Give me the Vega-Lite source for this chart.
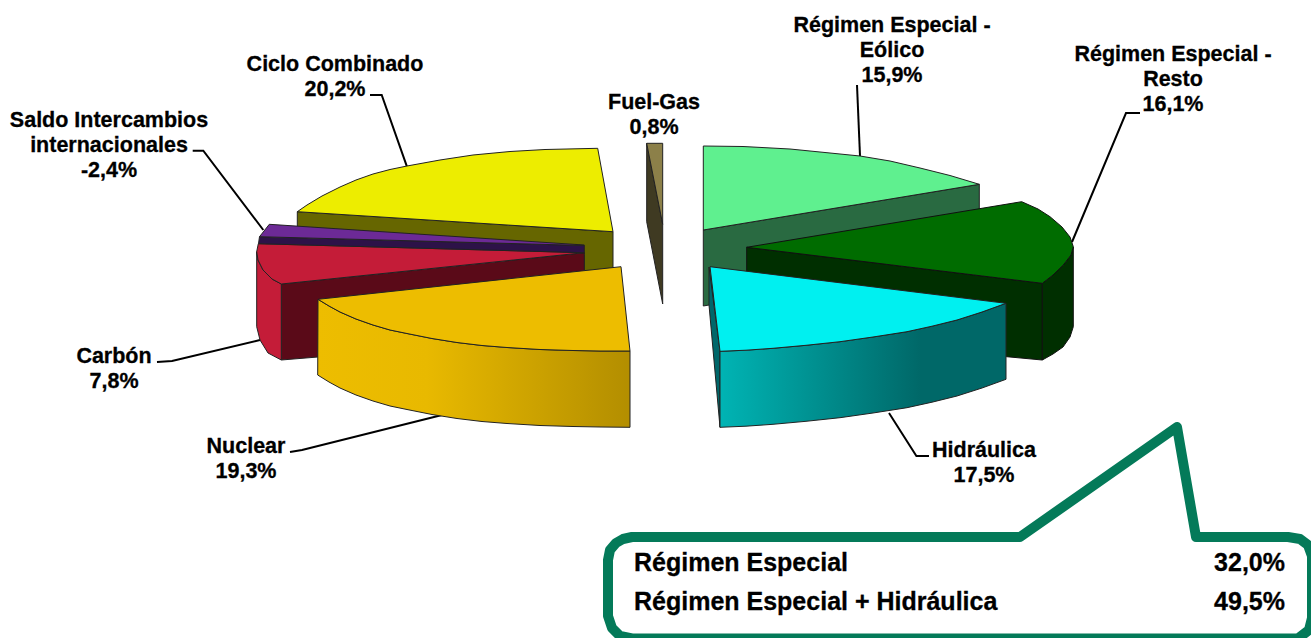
{"$schema":"https://vega.github.io/schema/vega-lite/v6.json","width":1311,"height":638,"autosize":"none","padding":0,"background":"white","config":{"view":{"stroke":null}},
"datasets":{"leaders":[
{"s":"eolico","i":0,"px":860,"py":156},{"s":"eolico","i":1,"px":857,"py":85},
{"s":"resto","i":0,"px":1072,"py":242},{"s":"resto","i":1,"px":1126,"py":113},{"s":"resto","i":2,"px":1140,"py":113},
{"s":"ciclo","i":0,"px":370,"py":95},{"s":"ciclo","i":1,"px":381.7,"py":95},{"s":"ciclo","i":2,"px":407.3,"py":167.7},
{"s":"saldo","i":0,"px":192.7,"py":150.7},{"s":"saldo","i":1,"px":203.3,"py":150.7},{"s":"saldo","i":2,"px":263.3,"py":230},
{"s":"carbon","i":0,"px":157,"py":362},{"s":"carbon","i":1,"px":172,"py":361},{"s":"carbon","i":2,"px":260,"py":340},
{"s":"nuclear","i":0,"px":290,"py":452},{"s":"nuclear","i":1,"px":302,"py":450},{"s":"nuclear","i":2,"px":442,"py":415},
{"s":"hidra","i":0,"px":889,"py":413},{"s":"hidra","i":1,"px":916.4,"py":456},{"s":"hidra","i":2,"px":929,"py":456}],
"shapes":[
{"s":"fuelSide","i":0,"px":646.7,"py":143.3},{"s":"fuelSide","i":1,"px":662.7,"py":224.3},{"s":"fuelSide","i":2,"px":662.7,"py":304},{"s":"fuelSide","i":3,"px":646.7,"py":221.7},
{"s":"fuelTop","i":0,"px":646.7,"py":143.3},{"s":"fuelTop","i":1,"px":662.7,"py":143.3},{"s":"fuelTop","i":2,"px":662.7,"py":224.3},
{"s":"yelSide","i":0,"px":297.3,"py":211.7},{"s":"yelSide","i":1,"px":613,"py":231.7},{"s":"yelSide","i":2,"px":613,"py":270},{"s":"yelSide","i":3,"px":584,"py":272},{"s":"yelSide","i":4,"px":584,"py":255},{"s":"yelSide","i":5,"px":297.3,"py":232},
{"s":"yelTop","i":0,"px":597.7,"py":148.3},{"s":"yelTop","i":1,"px":613,"py":231.7},{"s":"yelTop","i":2,"px":297.3,"py":211.7},{"s":"yelTop","i":3,"px":307,"py":205},{"s":"yelTop","i":4,"px":322,"py":196},{"s":"yelTop","i":5,"px":340,"py":187},{"s":"yelTop","i":6,"px":356,"py":180},{"s":"yelTop","i":7,"px":373,"py":174},{"s":"yelTop","i":8,"px":390,"py":169.5},{"s":"yelTop","i":9,"px":407,"py":166},{"s":"yelTop","i":10,"px":440,"py":160},{"s":"yelTop","i":11,"px":473,"py":155},{"s":"yelTop","i":12,"px":510,"py":151.5},{"s":"yelTop","i":13,"px":545,"py":149.5},
{"s":"lgSide","i":0,"px":703.3,"py":230},{"s":"lgSide","i":1,"px":979.3,"py":184.3},{"s":"lgSide","i":2,"px":979.3,"py":240},{"s":"lgSide","i":3,"px":750,"py":300},{"s":"lgSide","i":4,"px":709,"py":305},{"s":"lgSide","i":5,"px":703.3,"py":306},
{"s":"lgTop","i":0,"px":703.3,"py":146},{"s":"lgTop","i":1,"px":743,"py":146.5},{"s":"lgTop","i":2,"px":790,"py":149},{"s":"lgTop","i":3,"px":830,"py":153},{"s":"lgTop","i":4,"px":860,"py":156},{"s":"lgTop","i":5,"px":890,"py":161},{"s":"lgTop","i":6,"px":920,"py":168},{"s":"lgTop","i":7,"px":950,"py":175.5},{"s":"lgTop","i":8,"px":979.3,"py":184.3},{"s":"lgTop","i":9,"px":703.3,"py":230},
{"s":"redInner","i":0,"px":281.3,"py":284},{"s":"redInner","i":1,"px":584.3,"py":252.7},{"s":"redInner","i":2,"px":584.3,"py":272},{"s":"redInner","i":3,"px":330,"py":356},{"s":"redInner","i":4,"px":281.3,"py":360},
{"s":"redOuter","i":0,"px":256.7,"py":251.7},{"s":"redOuter","i":1,"px":258,"py":260},{"s":"redOuter","i":2,"px":263,"py":270},{"s":"redOuter","i":3,"px":272,"py":279},{"s":"redOuter","i":4,"px":281.3,"py":284},{"s":"redOuter","i":5,"px":281.3,"py":360},{"s":"redOuter","i":6,"px":268,"py":353},{"s":"redOuter","i":7,"px":260,"py":340},{"s":"redOuter","i":8,"px":256.7,"py":326.7},
{"s":"redTop","i":0,"px":258.3,"py":243.7},{"s":"redTop","i":1,"px":584.3,"py":252.7},{"s":"redTop","i":2,"px":281.3,"py":284},{"s":"redTop","i":3,"px":272,"py":279},{"s":"redTop","i":4,"px":263,"py":270},{"s":"redTop","i":5,"px":258,"py":260},{"s":"redTop","i":6,"px":256.7,"py":251.7},
{"s":"purSide","i":0,"px":259.5,"py":236.7},{"s":"purSide","i":1,"px":584.3,"py":245.5},{"s":"purSide","i":2,"px":584.3,"py":252.7},{"s":"purSide","i":3,"px":258.5,"py":243.7},
{"s":"purTop","i":0,"px":259.5,"py":236.7},{"s":"purTop","i":1,"px":269.3,"py":224.3},{"s":"purTop","i":2,"px":584.3,"py":245},{"s":"purTop","i":3,"px":584.3,"py":245.5},
{"s":"dgInner","i":0,"px":746.7,"py":247.3},{"s":"dgInner","i":1,"px":1042.3,"py":283.3},{"s":"dgInner","i":2,"px":1042.3,"py":360},{"s":"dgInner","i":3,"px":1006.7,"py":356.7},{"s":"dgInner","i":4,"px":800,"py":330},{"s":"dgInner","i":5,"px":746.7,"py":310},
{"s":"dgOuter","i":0,"px":1042.3,"py":283.3},{"s":"dgOuter","i":1,"px":1053,"py":275},{"s":"dgOuter","i":2,"px":1063.3,"py":265},{"s":"dgOuter","i":3,"px":1071,"py":255},{"s":"dgOuter","i":4,"px":1073.3,"py":247},{"s":"dgOuter","i":5,"px":1073.3,"py":326.7},{"s":"dgOuter","i":6,"px":1070,"py":337},{"s":"dgOuter","i":7,"px":1063,"py":347},{"s":"dgOuter","i":8,"px":1053,"py":354},{"s":"dgOuter","i":9,"px":1042.3,"py":360},
{"s":"dgTop","i":0,"px":746.7,"py":247.3},{"s":"dgTop","i":1,"px":1021.7,"py":201.7},{"s":"dgTop","i":2,"px":1038,"py":209},{"s":"dgTop","i":3,"px":1050,"py":216.7},{"s":"dgTop","i":4,"px":1062,"py":227},{"s":"dgTop","i":5,"px":1070,"py":237},{"s":"dgTop","i":6,"px":1073.3,"py":246.7},{"s":"dgTop","i":7,"px":1071,"py":255},{"s":"dgTop","i":8,"px":1063.3,"py":265},{"s":"dgTop","i":9,"px":1053,"py":275},{"s":"dgTop","i":10,"px":1042.3,"py":283.3},
{"s":"goSide","i":0,"px":318,"py":299.3},{"s":"goSide","i":1,"px":329,"py":306},{"s":"goSide","i":2,"px":340,"py":312},{"s":"goSide","i":3,"px":356,"py":319},{"s":"goSide","i":4,"px":373,"py":325},{"s":"goSide","i":5,"px":390,"py":330},{"s":"goSide","i":6,"px":407,"py":333.5},{"s":"goSide","i":7,"px":432,"py":338.5},{"s":"goSide","i":8,"px":457,"py":342.5},{"s":"goSide","i":9,"px":482,"py":345.5},{"s":"goSide","i":10,"px":507,"py":347.5},{"s":"goSide","i":11,"px":540,"py":349.5},{"s":"goSide","i":12,"px":573,"py":350.5},{"s":"goSide","i":13,"px":600,"py":351},{"s":"goSide","i":14,"px":630,"py":351},{"s":"goSide","i":15,"px":630,"py":427.3},{"s":"goSide","i":16,"px":600,"py":427},{"s":"goSide","i":17,"px":573,"py":426.5},{"s":"goSide","i":18,"px":540,"py":425.5},{"s":"goSide","i":19,"px":507,"py":423.5},{"s":"goSide","i":20,"px":482,"py":421.5},{"s":"goSide","i":21,"px":457,"py":418.5},{"s":"goSide","i":22,"px":432,"py":414.5},{"s":"goSide","i":23,"px":407,"py":409.5},{"s":"goSide","i":24,"px":390,"py":406},{"s":"goSide","i":25,"px":373,"py":401},{"s":"goSide","i":26,"px":356,"py":395},{"s":"goSide","i":27,"px":340,"py":388},{"s":"goSide","i":28,"px":329,"py":382},{"s":"goSide","i":29,"px":317.7,"py":375},
{"s":"goTop","i":0,"px":621,"py":266.7},{"s":"goTop","i":1,"px":630,"py":351},{"s":"goTop","i":2,"px":600,"py":351},{"s":"goTop","i":3,"px":573,"py":350.5},{"s":"goTop","i":4,"px":540,"py":349.5},{"s":"goTop","i":5,"px":507,"py":347.5},{"s":"goTop","i":6,"px":482,"py":345.5},{"s":"goTop","i":7,"px":457,"py":342.5},{"s":"goTop","i":8,"px":432,"py":338.5},{"s":"goTop","i":9,"px":407,"py":333.5},{"s":"goTop","i":10,"px":390,"py":330},{"s":"goTop","i":11,"px":373,"py":325},{"s":"goTop","i":12,"px":356,"py":319},{"s":"goTop","i":13,"px":340,"py":312},{"s":"goTop","i":14,"px":329,"py":306},{"s":"goTop","i":15,"px":318,"py":299.3},
{"s":"cyLeft","i":0,"px":709,"py":267},{"s":"cyLeft","i":1,"px":720,"py":351.3},{"s":"cyLeft","i":2,"px":720,"py":427.3},{"s":"cyLeft","i":3,"px":709,"py":305},
{"s":"cySide","i":0,"px":720,"py":351.3},{"s":"cySide","i":1,"px":746,"py":350.2},{"s":"cySide","i":2,"px":773,"py":348.3},{"s":"cySide","i":3,"px":806,"py":345.3},{"s":"cySide","i":4,"px":840,"py":341.7},{"s":"cySide","i":5,"px":873,"py":337},{"s":"cySide","i":6,"px":907,"py":331.7},{"s":"cySide","i":7,"px":932,"py":326.2},{"s":"cySide","i":8,"px":957,"py":320},{"s":"cySide","i":9,"px":982,"py":312},{"s":"cySide","i":10,"px":1006,"py":303.3},{"s":"cySide","i":11,"px":1006,"py":379.3},{"s":"cySide","i":12,"px":982,"py":388},{"s":"cySide","i":13,"px":957,"py":396},{"s":"cySide","i":14,"px":932,"py":402.2},{"s":"cySide","i":15,"px":907,"py":407.7},{"s":"cySide","i":16,"px":873,"py":413},{"s":"cySide","i":17,"px":840,"py":417.7},{"s":"cySide","i":18,"px":806,"py":421.3},{"s":"cySide","i":19,"px":773,"py":424.3},{"s":"cySide","i":20,"px":746,"py":426.2},{"s":"cySide","i":21,"px":720,"py":427.3},
{"s":"cyTop","i":0,"px":710,"py":266.7},{"s":"cyTop","i":1,"px":1006,"py":303.3},{"s":"cyTop","i":2,"px":982,"py":312},{"s":"cyTop","i":3,"px":957,"py":320},{"s":"cyTop","i":4,"px":932,"py":326.2},{"s":"cyTop","i":5,"px":907,"py":331.7},{"s":"cyTop","i":6,"px":873,"py":337},{"s":"cyTop","i":7,"px":840,"py":341.7},{"s":"cyTop","i":8,"px":806,"py":345.3},{"s":"cyTop","i":9,"px":773,"py":348.3},{"s":"cyTop","i":10,"px":746,"py":350.2},{"s":"cyTop","i":11,"px":720,"py":351.3},
{"s":"box","i":0,"px":632,"py":537},{"s":"box","i":1,"px":1020,"py":537},{"s":"box","i":2,"px":1177,"py":427},{"s":"box","i":3,"px":1196,"py":537},{"s":"box","i":4,"px":1288,"py":537},{"s":"box","i":5,"px":1300,"py":539},{"s":"box","i":6,"px":1308,"py":545},{"s":"box","i":7,"px":1312,"py":556},{"s":"box","i":8,"px":1312,"py":618},{"s":"box","i":9,"px":1309,"py":630},{"s":"box","i":10,"px":1298,"py":638.5},{"s":"box","i":11,"px":632,"py":638.5},{"s":"box","i":12,"px":620,"py":636},{"s":"box","i":13,"px":612,"py":628},{"s":"box","i":14,"px":608,"py":616},{"s":"box","i":15,"px":608,"py":560},{"s":"box","i":16,"px":610,"py":550},{"s":"box","i":17,"px":616,"py":543},{"s":"box","i":18,"px":623,"py":539}],
"labels":[
{"label":"Régimen Especial -\nEólico\n15,9%","px":892,"py":26},
{"label":"Régimen Especial -\nResto\n16,1%","px":1173,"py":55},
{"label":"Fuel-Gas\n0,8%","px":654,"py":103},
{"label":"Ciclo Combinado\n20,2%","px":335,"py":64.5},
{"label":"Saldo Intercambios\ninternacionales\n-2,4%","px":109,"py":120.5},
{"label":"Carbón\n7,8%","px":114,"py":356.5},
{"label":"Nuclear\n19,3%","px":246,"py":446.5},
{"label":"Hidráulica\n17,5%","px":984,"py":450.5}],
"summary":[
{"label":"Régimen Especial","share":"32,0%","py":563},
{"label":"Régimen Especial + Hidráulica","share":"49,5%","py":602}]},
"encoding":{"x":{"field":"px","type":"quantitative","scale":{"domain":[0,1311],"nice":false,"zero":false},"axis":null},"y":{"field":"py","type":"quantitative","scale":{"domain":[638,0],"nice":false,"zero":false},"axis":null}},
"layer":[
{"data":{"name":"leaders"},"mark":{"type":"line","stroke":"#000","strokeWidth":2},"encoding":{"detail":{"field":"s"},"order":{"field":"i"}}},
{"data":{"name":"shapes"},"transform":[{"filter":"datum.s=='fuelSide'"}],"mark":{"type":"line","interpolate":"linear-closed","fill":"#3f3a22","stroke":"#222","strokeWidth":1},"encoding":{"order":{"field":"i"}}},
{"data":{"name":"shapes"},"transform":[{"filter":"datum.s=='fuelTop'"}],"mark":{"type":"line","interpolate":"linear-closed","fill":"#8c8049","stroke":"#222","strokeWidth":1},"encoding":{"order":{"field":"i"}}},
{"data":{"name":"shapes"},"transform":[{"filter":"datum.s=='yelSide'"}],"mark":{"type":"line","interpolate":"linear-closed","fill":"#666600","stroke":"#222","strokeWidth":1},"encoding":{"order":{"field":"i"}}},
{"data":{"name":"shapes"},"transform":[{"filter":"datum.s=='yelTop'"}],"mark":{"type":"line","interpolate":"linear-closed","fill":"#eded00","stroke":"#222","strokeWidth":1},"encoding":{"order":{"field":"i"}}},
{"data":{"name":"shapes"},"transform":[{"filter":"datum.s=='lgSide'"}],"mark":{"type":"line","interpolate":"linear-closed","fill":"#296a41","stroke":"#222","strokeWidth":1},"encoding":{"order":{"field":"i"}}},
{"data":{"name":"shapes"},"transform":[{"filter":"datum.s=='lgTop'"}],"mark":{"type":"line","interpolate":"linear-closed","fill":"#5ff08f","stroke":"#222","strokeWidth":1},"encoding":{"order":{"field":"i"}}},
{"data":{"name":"shapes"},"transform":[{"filter":"datum.s=='redInner'"}],"mark":{"type":"line","interpolate":"linear-closed","fill":"#5a0a18","stroke":"#222","strokeWidth":1},"encoding":{"order":{"field":"i"}}},
{"data":{"name":"shapes"},"transform":[{"filter":"datum.s=='redOuter'"}],"mark":{"type":"line","interpolate":"linear-closed","fill":"#c41c38","stroke":"#222","strokeWidth":1},"encoding":{"order":{"field":"i"}}},
{"data":{"name":"shapes"},"transform":[{"filter":"datum.s=='redTop'"}],"mark":{"type":"line","interpolate":"linear-closed","fill":"#c41c38","stroke":"#222","strokeWidth":1},"encoding":{"order":{"field":"i"}}},
{"data":{"name":"shapes"},"transform":[{"filter":"datum.s=='purSide'"}],"mark":{"type":"line","interpolate":"linear-closed","fill":"#2d1248","stroke":"#222","strokeWidth":1},"encoding":{"order":{"field":"i"}}},
{"data":{"name":"shapes"},"transform":[{"filter":"datum.s=='purTop'"}],"mark":{"type":"line","interpolate":"linear-closed","fill":"#6c2a96","stroke":"#222","strokeWidth":1},"encoding":{"order":{"field":"i"}}},
{"data":{"name":"shapes"},"transform":[{"filter":"datum.s=='dgInner'"}],"mark":{"type":"line","interpolate":"linear-closed","fill":"#002f00","stroke":"#111","strokeWidth":1},"encoding":{"order":{"field":"i"}}},
{"data":{"name":"shapes"},"transform":[{"filter":"datum.s=='dgOuter'"}],"mark":{"type":"line","interpolate":"linear-closed","fill":"#002f00","stroke":"#111","strokeWidth":1},"encoding":{"order":{"field":"i"}}},
{"data":{"name":"shapes"},"transform":[{"filter":"datum.s=='dgTop'"}],"mark":{"type":"line","interpolate":"linear-closed","fill":"#006c00","stroke":"#111","strokeWidth":1},"encoding":{"order":{"field":"i"}}},
{"data":{"name":"shapes"},"transform":[{"filter":"datum.s=='goSide'"}],"mark":{"type":"line","interpolate":"linear-closed","fill":{"gradient":"linear","x1":0,"y1":0,"x2":1,"y2":0,"stops":[{"offset":0,"color":"#edbd00"},{"offset":0.35,"color":"#e8b900"},{"offset":1,"color":"#b38e00"}]},"stroke":"#222","strokeWidth":1},"encoding":{"order":{"field":"i"}}},
{"data":{"name":"shapes"},"transform":[{"filter":"datum.s=='goTop'"}],"mark":{"type":"line","interpolate":"linear-closed","fill":"#edbd00","stroke":"#222","strokeWidth":1},"encoding":{"order":{"field":"i"}}},
{"data":{"name":"shapes"},"transform":[{"filter":"datum.s=='cyLeft'"}],"mark":{"type":"line","interpolate":"linear-closed","fill":"#00676a","stroke":"#222","strokeWidth":1},"encoding":{"order":{"field":"i"}}},
{"data":{"name":"shapes"},"transform":[{"filter":"datum.s=='cySide'"}],"mark":{"type":"line","interpolate":"linear-closed","fill":{"gradient":"linear","x1":0,"y1":0,"x2":1,"y2":0,"stops":[{"offset":0,"color":"#00b4b4"},{"offset":0.7,"color":"#006868"},{"offset":1,"color":"#006868"}]},"stroke":"#222","strokeWidth":1},"encoding":{"order":{"field":"i"}}},
{"data":{"name":"shapes"},"transform":[{"filter":"datum.s=='cyTop'"}],"mark":{"type":"line","interpolate":"linear-closed","fill":"#00f0f0","stroke":"#222","strokeWidth":1},"encoding":{"order":{"field":"i"}}},
{"data":{"name":"shapes"},"transform":[{"filter":"datum.s=='box'"}],"mark":{"type":"line","interpolate":"linear-closed","fill":"white","stroke":"#047a59","strokeWidth":10,"strokeJoin":"round"},"encoding":{"order":{"field":"i"}}},
{"data":{"name":"labels"},"mark":{"type":"text","font":"Liberation Sans","fontWeight":"bold","fontSize":21.5,"lineBreak":"\n","lineHeight":25,"align":"center","baseline":"middle","color":"#000","stroke":"#000","strokeWidth":0.3},"encoding":{"text":{"field":"label"}}},
{"data":{"name":"summary"},"mark":{"type":"text","font":"Liberation Sans","fontWeight":"bold","fontSize":25,"align":"left","baseline":"middle","color":"#000","stroke":"#000","strokeWidth":0.3},"encoding":{"x":{"value":634},"text":{"field":"label"}}},
{"data":{"name":"summary"},"mark":{"type":"text","font":"Liberation Sans","fontWeight":"bold","fontSize":25,"align":"right","baseline":"middle","color":"#000","stroke":"#000","strokeWidth":0.3},"encoding":{"x":{"value":1285},"text":{"field":"share"}}}
]}
